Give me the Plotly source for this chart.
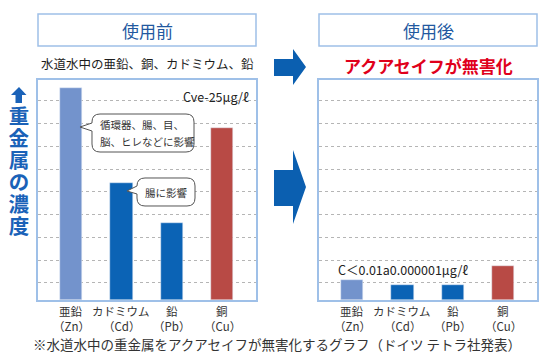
import plotly.graph_objects as go

W, H = 550, 362
FONT = "Noto Sans CJK JP"

cat_names = ["亜鉛", "カドミウム", "鉛", "銅"]
cat_symbols = ["（Zn）", "（Cd）", "（Pb）", "（Cu）"]
before_vals = [9.32, 5.14, 3.38, 7.56]
after_vals = [0.88, 0.66, 0.66, 1.49]
bar_colors = ["#7393cc", "#0b63b5", "#0b63b5", "#b84a45"]
grid_vals = [0.75 + k for k in range(9)]
label_chars = ["重", "金", "属", "の", "濃", "度"]

def px(x):
    return x / W

def py(y):
    return 1 - y / H

fig = go.Figure()
xpos = list(range(len(cat_names)))
fig.add_trace(go.Bar(x=xpos, y=before_vals, marker_color=bar_colors, width=0.44,
                     xaxis="x", yaxis="y", showlegend=False, hoverinfo="skip"))
fig.add_trace(go.Bar(x=xpos, y=after_vals, marker_color=bar_colors, width=0.44,
                     xaxis="x2", yaxis="y2", showlegend=False, hoverinfo="skip"))

line_col = "#9fc0e8"
xcommon = dict(range=[-0.655, 3.67], tickvals=xpos, showticklabels=False, showgrid=False,
               showline=True, mirror=True, linecolor=line_col, linewidth=1.5, ticks="",
               fixedrange=True)
ycommon = dict(range=[0, 9.67], tickvals=grid_vals, showticklabels=False, showgrid=True,
               gridcolor="#b5b5b5", griddash="dot", gridwidth=1, zeroline=False,
               showline=True, mirror=True, linecolor=line_col, linewidth=1.5, ticks="")

fig.update_layout(
    width=W, height=H, margin=dict(l=0, r=0, t=0, b=0),
    paper_bgcolor="white", plot_bgcolor="white",
    bargap=0,
    font=dict(family=FONT),
    xaxis=dict(domain=[px(38), px(256)], anchor="y", **xcommon),
    yaxis=dict(domain=[py(300), py(80)], anchor="x", **ycommon),
    xaxis2=dict(domain=[px(319), px(537)], anchor="y2", **xcommon),
    yaxis2=dict(domain=[py(300), py(80)], anchor="x2", **ycommon),
)

shapes = []
ann = []

# category labels
for xr in ["x", "x2"]:
    for i in xpos:
        ann.append(dict(x=i, y=py(311), xref=xr, yref="paper", text=cat_names[i], showarrow=False,
                        font=dict(family=FONT, size=11.5, color="#333333"),
                        xanchor="center", yanchor="middle"))
        ann.append(dict(x=i, y=py(326), xref=xr, yref="paper", text=cat_symbols[i], showarrow=False,
                        font=dict(family=FONT, size=11.5, color="#333333"),
                        xanchor="center", yanchor="middle"))

# title boxes
for (x0, x1, txt) in [(38, 256, "使用前"), (319, 537, "使用後")]:
    shapes.append(dict(type="rect", xref="paper", yref="paper", x0=px(x0), x1=px(x1),
                       y0=py(46), y1=py(14), line=dict(color=line_col, width=1.5)))
    ann.append(dict(x=px((x0 + x1) / 2), y=py(30), xref="paper", yref="paper", text=txt,
                    showarrow=False, font=dict(family=FONT, size=17, color="#22589f"),
                    xanchor="center", yanchor="middle"))

ann.append(dict(x=px(147), y=py(63), xref="paper", yref="paper",
                text="水道水中の亜鉛、銅、カドミウム、鉛", showarrow=False,
                font=dict(family=FONT, size=12.5, color="#1e1e1e"), xanchor="center", yanchor="middle"))
ann.append(dict(x=px(428), y=py(66), xref="paper", yref="paper",
                text="<b>アクアセイフが無害化</b>", showarrow=False,
                font=dict(family=FONT, size=17, color="#e0001b"), xanchor="center", yanchor="middle"))
ann.append(dict(x=px(251), y=py(96), xref="paper", yref="paper", text="Cve-25μg/ℓ",
                showarrow=False, font=dict(family=FONT, size=12.5, color="#222222"),
                xanchor="right", yanchor="middle"))
ann.append(dict(x=px(336), y=py(269), xref="paper", yref="paper", text="C＜0.01a0.000001μg/ℓ",
                showarrow=False, font=dict(family=FONT, size=12.5, color="#222222"),
                xanchor="left", yanchor="middle"))
ann.append(dict(x=px(277), y=py(344), xref="paper", yref="paper",
                text="※水道水中の重金属をアクアセイフが無害化するグラフ（ドイツ テトラ社発表）",
                showarrow=False, font=dict(family=FONT, size=13.5, color="#333333"),
                xanchor="center", yanchor="middle"))

# vertical label, one character per line (boxes sized to the line pitch)
for k, ch in enumerate(label_chars):
    ann.append(dict(x=px(19), y=py(115 + k * 22), xref="paper", yref="paper",
                    text=f"<b>{ch}</b>", showarrow=False, height=22, width=24,
                    font=dict(family=FONT, size=20.5, color="#1a62b8"),
                    xanchor="center", yanchor="middle", valign="middle"))

def path_px(pts):
    return "M " + " L ".join(f"{px(x):.5f},{py(y):.5f}" for x, y in pts) + " Z"

# small up arrow in label
shapes.append(dict(type="path", xref="paper", yref="paper", fillcolor="#1a62b8", line=dict(width=0),
                   path=path_px([(19, 87), (26.5, 95), (22, 95), (22, 103), (15.5, 103), (15.5, 95), (11, 95)])))

# big arrows between panels
def big_arrow(ytop_head, ytip, ybot_head, yshaft0, yshaft1):
    return dict(type="path", xref="paper", yref="paper", fillcolor="#0b5fb0", line=dict(width=0),
                path=path_px([(274, yshaft0), (293, yshaft0), (293, ytop_head), (306, ytip),
                              (293, ybot_head), (293, yshaft1), (274, yshaft1)]))

shapes.append(big_arrow(49, 67, 85, 59, 76))
shapes.append(big_arrow(150, 187, 224, 170, 206))

# speech bubbles
def bubble(x0, y0, x1, y1, r, ta, tb, tx, ty):
    def P(x, y):
        return f"{px(x):.5f},{py(y):.5f}"
    d = (f"M {P(x0 + r, y0)} L {P(x1 - r, y0)} Q {P(x1, y0)} {P(x1, y0 + r)} "
         f"L {P(x1, y1 - r)} Q {P(x1, y1)} {P(x1 - r, y1)} "
         f"L {P(x0 + r, y1)} Q {P(x0, y1)} {P(x0, y1 - r)} "
         f"L {P(x0, tb)} L {P(tx, ty)} L {P(x0, ta)} "
         f"L {P(x0, y0 + r)} Q {P(x0, y0)} {P(x0 + r, y0)} Z")
    return dict(type="path", xref="paper", yref="paper", path=d, fillcolor="white",
                line=dict(color="#555555", width=1))

shapes.append(bubble(92, 114, 194, 152, 8, 123, 131, 80, 127))
shapes.append(bubble(137, 178, 195, 206, 8, 186, 194, 127, 191))

ann.append(dict(x=px(98), y=py(124), xref="paper", yref="paper",
                text="循環器、腸、目、", showarrow=False,
                font=dict(family=FONT, size=10.5, color="#333333"), xanchor="left", yanchor="middle"))
ann.append(dict(x=px(98), y=py(141), xref="paper", yref="paper",
                text="脳、ヒレなどに影響", showarrow=False,
                font=dict(family=FONT, size=10.5, color="#333333"), xanchor="left", yanchor="middle"))
ann.append(dict(x=px(166), y=py(192), xref="paper", yref="paper", text="腸に影響",
                showarrow=False, font=dict(family=FONT, size=10.5, color="#333333"),
                xanchor="center", yanchor="middle"))

fig.update_layout(shapes=shapes, annotations=ann)
fig.write_html("out.html")
